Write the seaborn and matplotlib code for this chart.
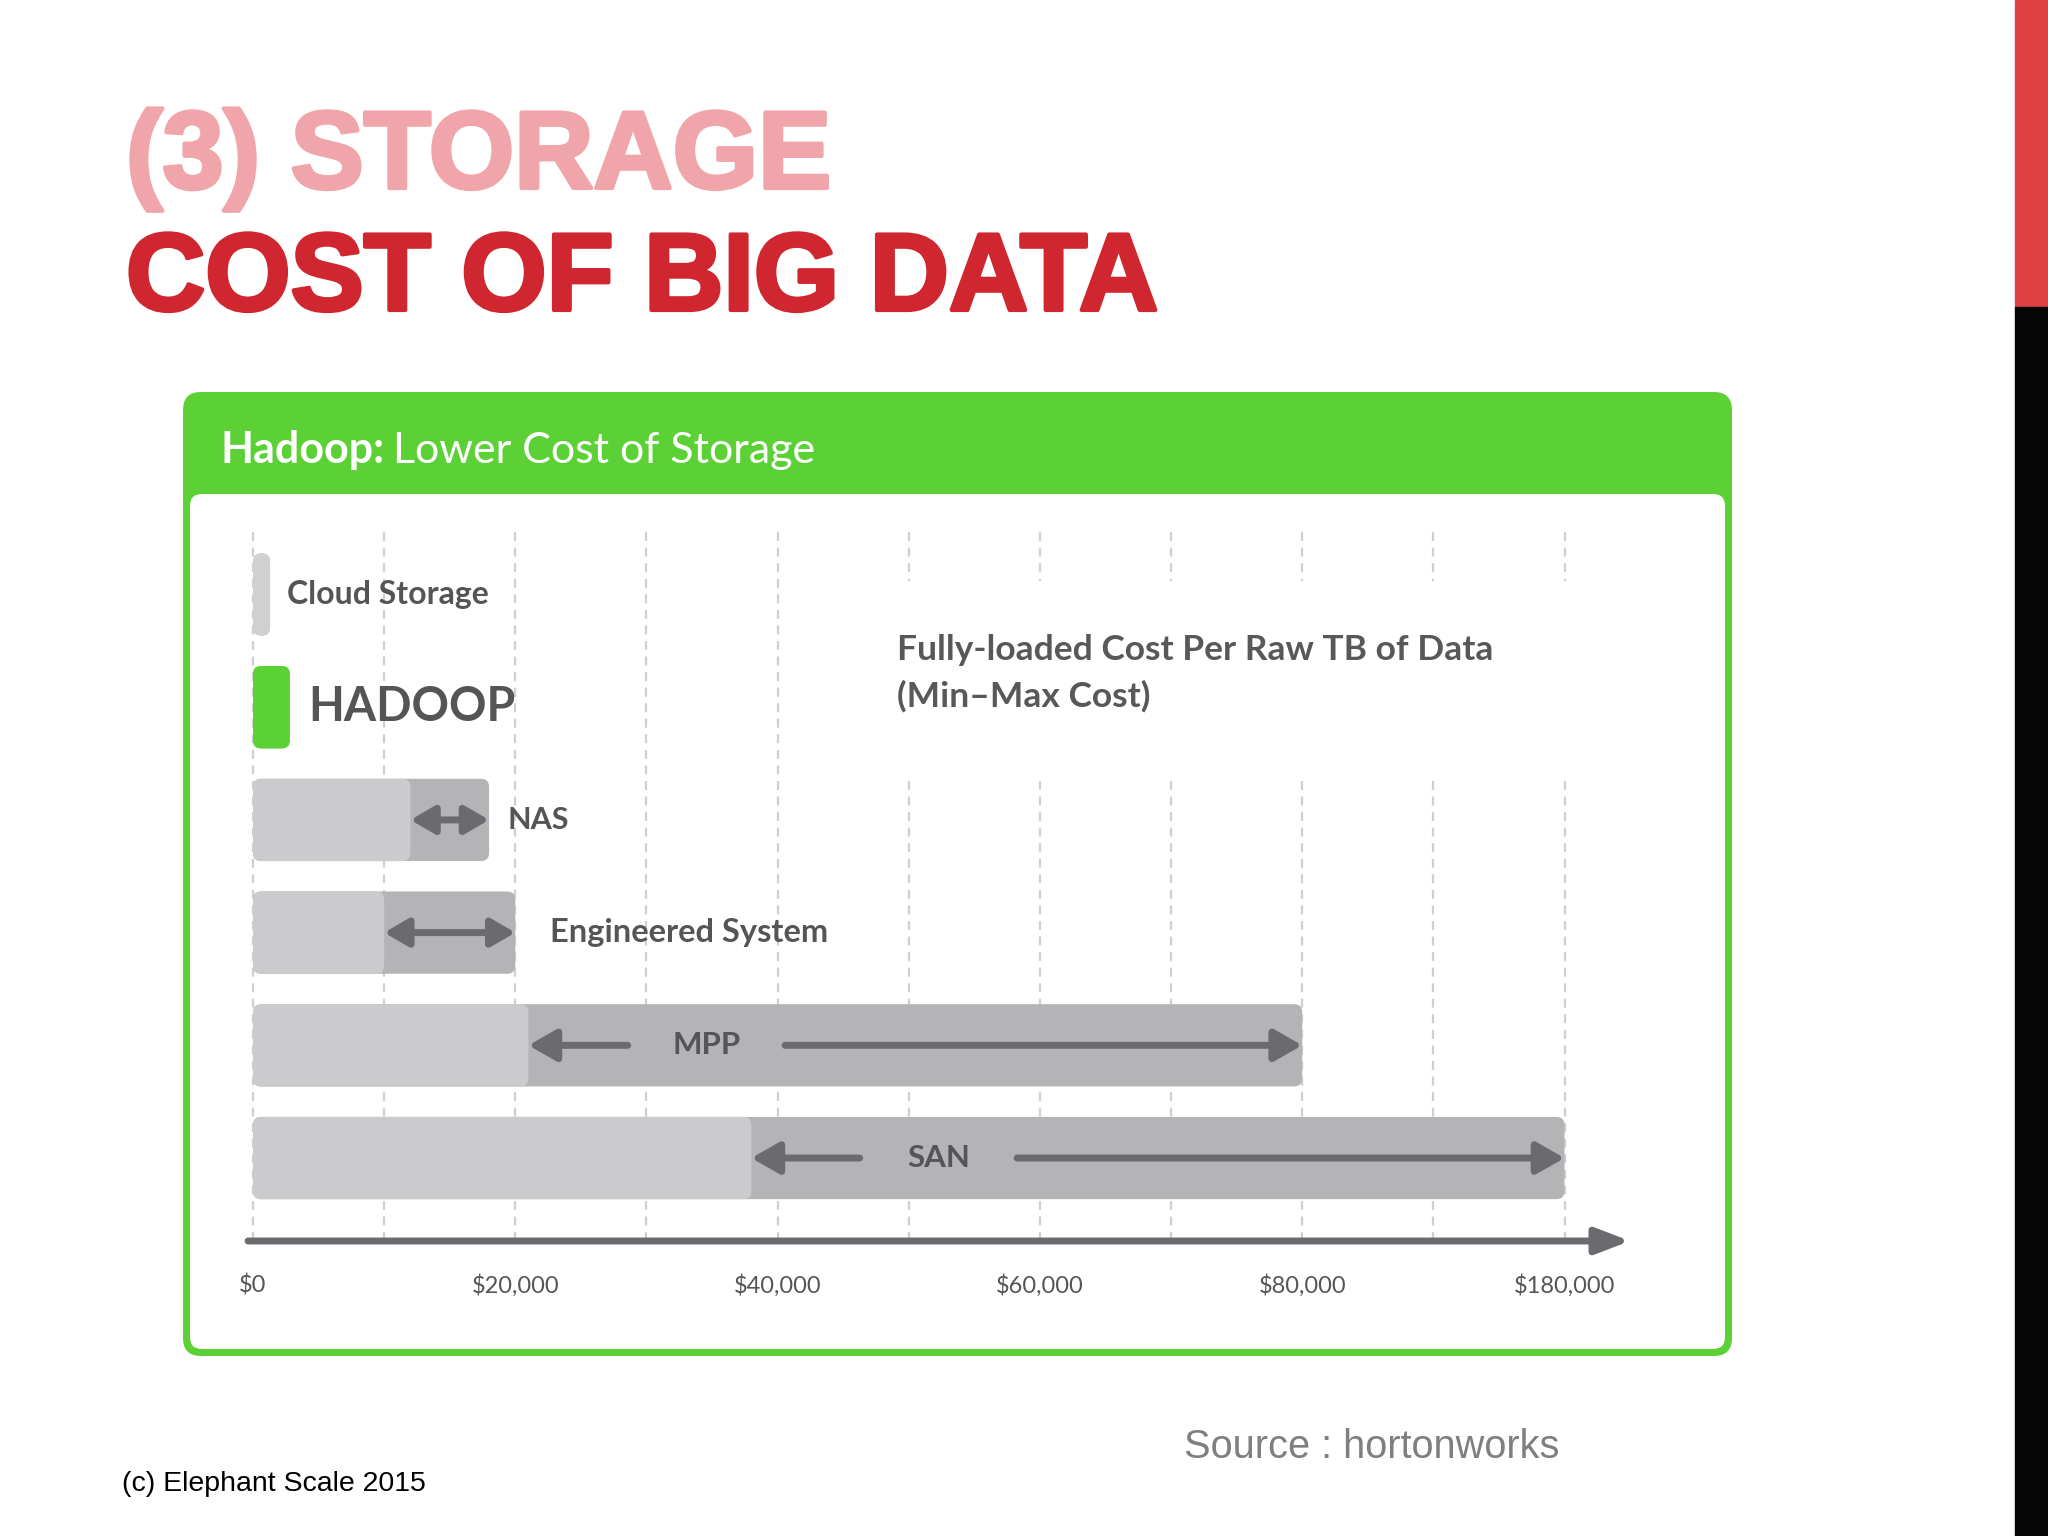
import numpy as np
import pandas as pd
import matplotlib
matplotlib.use("Agg")
import matplotlib.pyplot as plt
import seaborn as sns
from matplotlib.patches import FancyBboxPatch, Rectangle
from matplotlib.transforms import IdentityTransform
import matplotlib.patheffects as pe

# ---------------- data ----------------
systems = ["Cloud Storage", "HADOOP", "NAS", "Engineered System", "MPP", "SAN"]
min_cost = [1300, 2800, 12000, 10000, 21000, 38000]
max_cost = [1300, 2800, 18000, 20000, 80000, 180000]
tick_values = [0, 20000, 40000, 60000, 80000, 180000]
tick_labels = ["$0", "$20,000", "$40,000", "$60,000", "$80,000", "$180,000"]
grid_values = [0, 10000, 20000, 30000, 40000, 50000, 60000, 70000, 80000, 130000, 180000]

# ---------------- style ----------------
W, H = 2048, 1536
GREEN = "#5BD136"
LIGHT = "#CBCACD"
DARK = "#B4B3B6"
CLOUD = "#D0CFD2"
ARROW = "#6B6A6E"
TXT = "#555558"

sns.set_theme(style="white")
plt.rcParams["font.family"] = ["Lato", "DejaVu Sans"]

fig = plt.figure(figsize=(W / 100, H / 100), dpi=100)
fig.patch.set_facecolor("white")


def fx(x):
    return x / W


def fy(y):
    return 1 - y / H


# right-hand stripe
fig.patches.append(Rectangle((fx(2015), fy(307)), 33 / W, 307 / H, transform=fig.transFigure,
                             color="#E04142", zorder=-10))
fig.patches.append(Rectangle((fx(2015), 0), 33 / W, fy(307), transform=fig.transFigure,
                             color="#050505", zorder=-10))

# green panel
fig.patches.append(FancyBboxPatch((183, H - 1356), 1549, 964, boxstyle="round,pad=0,rounding_size=18",
                                  transform=IdentityTransform(), fc=GREEN, ec="none", zorder=-10))
fig.patches.append(FancyBboxPatch((190, H - 1349), 1535, 855, boxstyle="round,pad=0,rounding_size=12",
                                  transform=IdentityTransform(), fc="white", ec="none", zorder=-9))

# ---------------- chart axes ----------------
ax = fig.add_axes([fx(226.8), fy(1241), 1416.4 / W, 712 / H])

df = pd.DataFrame({"system": systems, "low": min_cost, "high": max_cost})
high_colors = [CLOUD, GREEN, DARK, DARK, DARK, DARK]
low_colors = [CLOUD, GREEN, LIGHT, LIGHT, LIGHT, LIGHT]
sns.barplot(data=df, x="high", y="system", hue="system", palette=high_colors, orient="h",
            width=0.73, saturation=1, legend=False, ax=ax)
sns.barplot(data=df, x="low", y="system", hue="system", palette=low_colors, orient="h",
            width=0.73, saturation=1, legend=False, ax=ax)


def fwd(x):
    x = np.asarray(x, dtype=float)
    return np.where(x <= 80000, x, 80000 + (x - 80000) / 5.0)


def inv(y):
    y = np.asarray(y, dtype=float)
    return np.where(y <= 80000, y, 80000 + (y - 80000) * 5.0)


ax.set_xscale("function", functions=(fwd, inv))
ax.set_xlim(-2000, 210000)
ax.set_ylim(5.736, -0.581)
ax.set_facecolor("none")
for s in ax.spines.values():
    s.set_visible(False)
ax.set_xlabel("")
ax.set_ylabel("")
ax.set_yticks([])
ax.xaxis.remove_overlapping_locs = False
ax.set_xticks(tick_values)
ax.set_xticklabels(tick_labels)
ax.set_xticks(grid_values, minor=True)
ax.tick_params(axis="x", which="both", length=0, pad=24, labelsize=17, labelcolor=TXT)
ax.set_axisbelow(True)
ax.grid(False)
ax.grid(True, which="minor", axis="x", linestyle=(0, (4, 3)), color="#CFCFD1", linewidth=1.6)

# rounded bars: replace seaborn rectangles by rounded boxes at the same place
for p in list(ax.patches):
    if not isinstance(p, Rectangle):
        continue
    x0, y0, w, h = p.get_x(), p.get_y(), p.get_width(), p.get_height()
    (px0, py0), (px1, py1) = ax.transData.transform([(x0, y0), (x0 + w, y0 + h)])
    rb = FancyBboxPatch((min(px0, px1), min(py0, py1)), abs(px1 - px0), abs(py1 - py0),
                        boxstyle="round,pad=0,rounding_size=8", transform=IdentityTransform(),
                        fc=p.get_facecolor(), ec="none", zorder=p.get_zorder())
    p.set_visible(False)
    ax.add_artist(rb)

# axis arrow
ax.annotate("", xy=(0.9907, 0), xytext=(0.015, 0), xycoords="axes fraction",
            arrowprops=dict(arrowstyle="-|>,head_length=1.7,head_width=0.65", lw=5, color=ARROW,
                            shrinkA=0, shrinkB=0), annotation_clip=False, zorder=5)

# labels to the right of the short bars
label_sizes = [23, 33.5, 22, 23.5]
label_offsets = [12, 13, 13, 25]
for i in range(4):
    ax.annotate(systems[i], xy=(max_cost[i], i), xytext=(label_offsets[i], 0),
                textcoords="offset points", va="center", ha="left", fontsize=label_sizes[i],
                fontweight="bold", color=TXT, zorder=6)

# double arrows for NAS and Engineered System
for i in (2, 3):
    ax.annotate("", xy=(max_cost[i], i), xytext=(min_cost[i], i),
                arrowprops=dict(arrowstyle="<|-|>,head_length=1.2,head_width=0.7", lw=5,
                                color=ARROW, shrinkA=0, shrinkB=0), zorder=6)

# MPP and SAN: label inside bar with split arrow
for i in (4, 5):
    lo, hi = float(fwd(min_cost[i])), float(fwd(max_cost[i]))
    lab = lo + 0.23 * (hi - lo)
    ax.text(float(inv(lab)), i, systems[i], ha="center", va="center", fontsize=22.5,
            fontweight="bold", color=TXT, zorder=6)
    ax.annotate("", xy=(min_cost[i], i), xytext=(float(inv(lab - 6000)), i),
                arrowprops=dict(arrowstyle="-|>,head_length=1.4,head_width=0.8", lw=5,
                                color=ARROW, shrinkA=0, shrinkB=0), zorder=6)
    ax.annotate("", xy=(max_cost[i], i), xytext=(float(inv(lab + 6000)), i),
                arrowprops=dict(arrowstyle="-|>,head_length=1.4,head_width=0.8", lw=5,
                                color=ARROW, shrinkA=0, shrinkB=0), zorder=6)

# white box behind the chart note
ax.add_artist(Rectangle((888, H - 777), 686, 196, transform=IdentityTransform(),
                        fc="white", ec="none", zorder=1.5))
fig.text(fx(897), fy(660), "Fully-loaded Cost Per Raw TB of Data", fontsize=25.5,
         fontweight="bold", color="#58585B", va="baseline", ha="left")
fig.text(fx(897), fy(707), "(Min\u2013Max Cost)", fontsize=25.5,
         fontweight="bold", color="#58585B", va="baseline", ha="left")

# panel header
t1 = fig.text(fx(221), fy(463), "Hadoop:", fontsize=31, fontweight="bold", color="white",
              va="baseline", ha="left")
ax.annotate("Lower Cost of Storage", xy=(1, 0), xycoords=t1, xytext=(6, 0),
            textcoords="offset points", va="bottom", ha="left", fontsize=31, color="white",
            annotation_clip=False)

# slide titles
for txt, y, col in (("(3) STORAGE", 188, "#EFA5A9"), ("COST OF BIG DATA", 310, "#D0262F")):
    fig.text(fx(126), fy(y), txt, family="Liberation Sans", fontweight="bold", fontsize=79,
             color=col, va="baseline", ha="left",
             path_effects=[pe.withStroke(linewidth=3, foreground=col)])

# footers
fig.text(fx(1184), fy(1458), "Source : hortonworks", family="Liberation Sans", fontsize=28.6,
         color="#7F7F7F", va="baseline", ha="left")
fig.text(fx(122), fy(1491), "(c) Elephant Scale 2015", family="Liberation Sans", fontsize=20.5,
         color="black", va="baseline", ha="left")

fig.savefig("out.png", dpi=100)
